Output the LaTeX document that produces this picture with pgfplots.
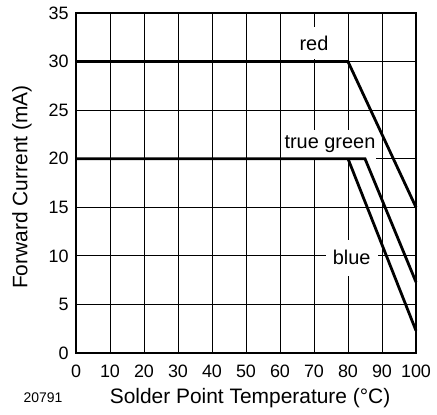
\documentclass[border=0pt]{standalone}
\usepackage{pgfplots}
\pgfplotsset{compat=1.18}
\usepackage{fontspec}
\setmainfont{Liberation Sans}
\begin{document}
\begin{tikzpicture}
\begin{axis}[
    scale only axis,
    width=340bp, height=340bp,
    xmin=0, xmax=100, ymin=0, ymax=35,
    xtick={0,10,...,100}, ytick={0,5,...,35},
    grid=major,
    major grid style={black, line width=0.9pt},
    axis line style={line width=1.8pt},
    major tick length=0pt,
    tick label style={font=\fontsize{18}{20}\selectfont},
    /pgf/number format/assume math mode=true,
    xticklabel style={yshift=-8pt},
    yticklabel style={xshift=-4pt},
    xlabel={Solder Point Temperature (°C)},
    ylabel={Forward Current (mA)},
    label style={font=\fontsize{21}{24}\selectfont},
    xlabel style={at={(axis description cs:0.512,-0.132)}, anchor=center},
    ylabel style={at={(axis description cs:-0.159,0.488)}, anchor=center, rotate=0},
    clip=false,
]
\node[fill=white, inner xsep=3pt, inner ysep=9pt, font=\fontsize{20}{22}\selectfont] at (axis cs:70,31.9) {red};
\node[fill=white, inner xsep=1pt, inner ysep=6pt, font=\fontsize{20}{22}\selectfont] at (axis cs:74.7,21.5) {true green};
\node[fill=white, inner xsep=7pt, inner ysep=11pt, font=\fontsize{20}{22}\selectfont] at (axis cs:81.1,9.8) {blue};
\addplot[black, line width=2.8pt] coordinates {(0,30) (80,30) (100,15)};
\addplot[black, line width=2.8pt] coordinates {(0,20) (85,20) (100,7.3)};
\addplot[black, line width=2.8pt] coordinates {(80,20) (100,2.3)};
\node[font=\fontsize{14}{16}\selectfont, anchor=center] at (axis description cs:-0.097,-0.13) {20791};
\coordinate (sw) at (rel axis cs:0,0);
\coordinate (ne) at (rel axis cs:1,1);
\end{axis}
\pgfresetboundingbox
\path ([shift={(-76bp,-62bp)}]sw) rectangle ([shift={(21bp,13bp)}]ne);
\end{tikzpicture}
\end{document}
